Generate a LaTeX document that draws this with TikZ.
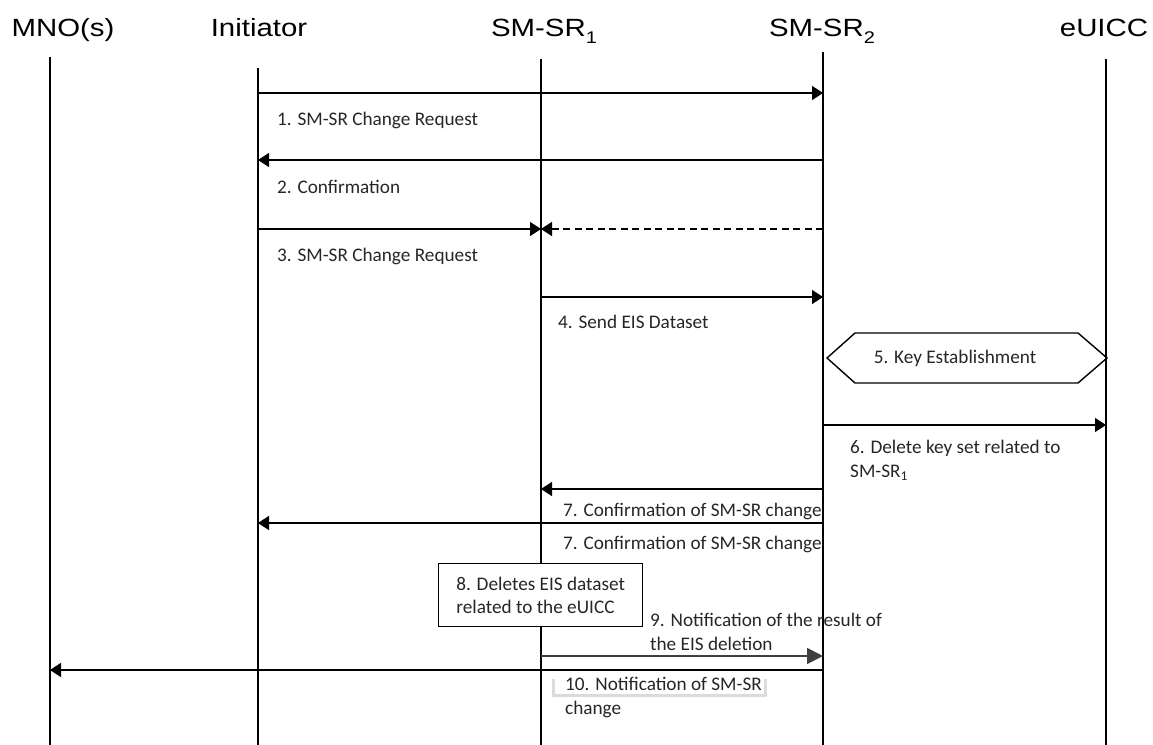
\documentclass[tikz,border=0pt]{standalone}
\usepackage{fontspec}
\setmainfont{Carlito}
\newfontfamily\hdrfont[FakeStretch=1.18]{Liberation Sans}
\newfontfamily\labfont{Carlito}
\usetikzlibrary{arrows.meta}
\begin{document}
\begin{tikzpicture}[x=1bp,y=-1bp,
  life/.style={line width=1.2bp, black},
  msg/.style={line width=1.6bp, black, -{Triangle[length=11bp,width=14bp]}},
  graymsg/.style={line width=1.8bp, black!75, -{Triangle[length=16bp,width=16bp]}},
  hdr/.style={font=\hdrfont\fontsize{25}{30}\selectfont, anchor=base, inner sep=0},
  lab/.style={font=\labfont\fontsize{19.3}{23.5}\selectfont, anchor=base west, inner sep=0, align=left, text=black!85},
  boxed/.style={draw, line width=1.4bp, fill=white},
]
\useasboundingbox (0,0) rectangle (1153,745);

% headers
\node[hdr] (hMNO) at (63,37) {MNO(s)};
\node[hdr] (hIni) at (259,37) {Initiator};
\node[hdr] (hS1) at (544,37) {SM-SR\raisebox{-0.28em}{\fontsize{17}{17}\selectfont 1}};
\node[hdr] (hS2) at (822,37) {SM-SR\raisebox{-0.28em}{\fontsize{17}{17}\selectfont 2}};
\node[hdr] (hEu) at (1104,37) {eUICC};

% lifelines
\coordinate (mnoT) at (50,57);   \coordinate (mnoB) at (50,745);
\coordinate (iniT) at (258,68);  \coordinate (iniB) at (258,745);
\coordinate (s1T) at (541,59);   \coordinate (s1B) at (541,745);
\coordinate (s2T) at (823,52);   \coordinate (s2B) at (823,745);
\coordinate (euT) at (1106,59);  \coordinate (euB) at (1106,745);
\draw[life] (mnoT) -- (mnoB);
\draw[life] (iniT) -- (iniB);
\draw[life] (s1T) -- (s1B);
\draw[life] (s2T) -- (s2B);
\draw[life] (euT) -- (euB);

% message end points
\coordinate (m1a) at (258,93);  \coordinate (m1b) at (823,93);
\coordinate (m2a) at (823,160); \coordinate (m2b) at (258,160);
\coordinate (m3a) at (258,229); \coordinate (m3b) at (541,229);
\coordinate (m3c) at (823,229);
\coordinate (m4a) at (541,297); \coordinate (m4b) at (823,297);
\coordinate (m6a) at (823,425); \coordinate (m6b) at (1106,425);
\coordinate (m7a) at (823,489); \coordinate (m7b) at (541,489);
\coordinate (m7c) at (823,523); \coordinate (m7d) at (258,523);
\coordinate (m9a) at (541,656); \coordinate (m9b) at (823,656);
\coordinate (m10a) at (823,670); \coordinate (m10b) at (50,670);

% messages
\draw[msg] (m1a) -- (m1b);
\node[lab] (l1) at (277,125) {1. SM-SR Change Request};
\draw[msg] (m2a) -- (m2b);
\node[lab] (l2) at (277,193) {2. Confirmation};
\draw[msg] (m3a) -- (m3b);
\draw[msg, dash pattern=on 7bp off 4.5bp] (m3c) -- (m3b);
\node[lab] (l3) at (277,261) {3. SM-SR Change Request};
\draw[msg] (m4a) -- (m4b);
\node[lab] (l4) at (558,328) {4. Send EIS Dataset};

% key establishment
\draw[line width=1.4bp] (827,358) -- (855,333) -- (1078,333) -- (1107,358) -- (1078,383) -- (855,383) -- cycle;
\node[lab, anchor=center] (l5) at (955,358) {5. Key Establishment};

\draw[msg] (m6a) -- (m6b);
\node[lab] (l6) at (850,477) {6. Delete key set related to\\SM-SR\textsubscript{1}};

\draw[msg] (m7a) -- (m7b);
\node[lab] (l7a) at (563,516) {7. Confirmation of SM-SR change};
\draw[msg] (m7c) -- (m7d);
\node[lab] (l7b) at (563,549) {7. Confirmation of SM-SR change};

% step 8 box
\node[boxed, anchor=north west, inner xsep=15bp, inner ysep=0pt,
      minimum width=204bp, minimum height=63bp,
      font=\labfont\fontsize{19.3}{23.5}\selectfont, align=left, text=black!85]
      (b8) at (438,563) {8. Deletes EIS dataset\\related to the eUICC};

\node[lab] (l9) at (650,650) {9. Notification of the result of\\the EIS deletion};
\draw[graymsg] (m9a) -- (m9b);

\draw[msg] (m10a) -- (m10b);
\fill[black!14] (552,679) rectangle (767,697);
\fill[white] (555,679) rectangle (764,694);
\node[lab] (l10) at (565,714) {10. Notification of SM-SR\\change};
\end{tikzpicture}
\end{document}
